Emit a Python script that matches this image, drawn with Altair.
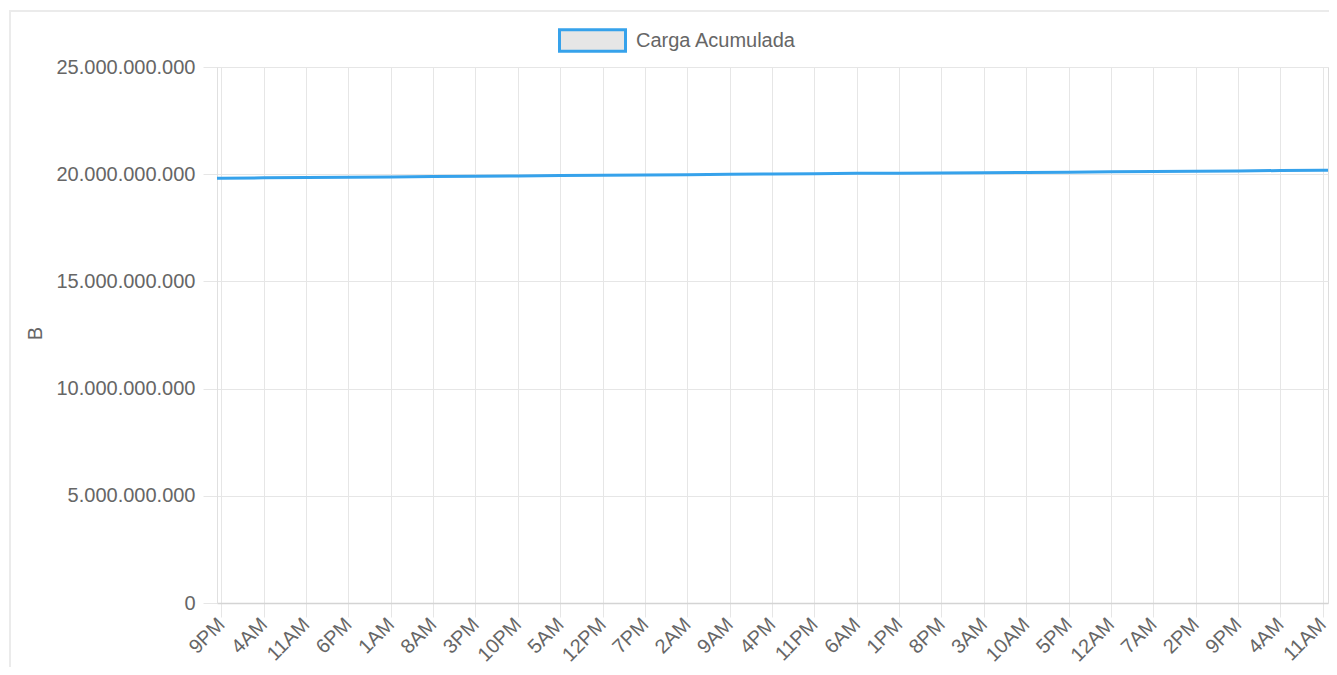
import altair as alt
import pandas as pd

series_name = "Carga Acumulada"
y_title = "B"

# data points (start, every labelled tick, end)
times = [
    "2023-10-01T20:17:00",
    "2023-10-01T21:00:00", "2023-10-02T04:00:00", "2023-10-02T11:00:00", "2023-10-02T18:00:00",
    "2023-10-03T01:00:00", "2023-10-03T08:00:00", "2023-10-03T15:00:00", "2023-10-03T22:00:00",
    "2023-10-04T05:00:00", "2023-10-04T12:00:00", "2023-10-04T19:00:00", "2023-10-05T02:00:00",
    "2023-10-05T09:00:00", "2023-10-05T16:00:00", "2023-10-05T23:00:00", "2023-10-06T06:00:00",
    "2023-10-06T13:00:00", "2023-10-06T20:00:00", "2023-10-07T03:00:00", "2023-10-07T10:00:00",
    "2023-10-07T17:00:00", "2023-10-08T00:00:00", "2023-10-08T07:00:00", "2023-10-08T14:00:00",
    "2023-10-08T21:00:00", "2023-10-09T04:00:00", "2023-10-09T11:00:00",
    "2023-10-09T11:53:00",
]
values = [
    19.810e9,
    19.815e9, 19.830e9, 19.845e9, 19.860e9,
    19.875e9, 19.890e9, 19.905e9, 19.920e9,
    19.935e9, 19.950e9, 19.965e9, 19.980e9,
    19.995e9, 20.010e9, 20.025e9, 20.040e9,
    20.050e9, 20.060e9, 20.070e9, 20.080e9,
    20.095e9, 20.110e9, 20.125e9, 20.140e9,
    20.155e9, 20.170e9, 20.185e9,
    20.190e9,
]

# x tick positions (every 7 hours) and y ticks
tick_times = times[1:-1]
y_ticks = [0, 5e9, 10e9, 15e9, 20e9, 25e9]


def dt(s):
    t = pd.Timestamp(s)
    return alt.DateTime(year=t.year, month=t.month, date=t.day, hours=t.hour, minutes=t.minute)


FONT = "Liberation Sans"
GRID = "#e6e6e6"
TXT = "#666666"
BLUE = "#36a2eb"

df = pd.DataFrame({"time": times, "value": values, "series": series_name})

line = alt.Chart(df).mark_line(strokeWidth=3).encode(
    x=alt.X(
        "time:T",
        scale=alt.Scale(domain=[dt(times[0]), dt(times[-1])], nice=False),
        axis=alt.Axis(
            values=[dt(t) for t in tick_times],
            format="%-I%p",
            labelAngle=-45,
            labelAlign="right",
            labelBaseline="middle",
            labelOverlap=False,
            labelFlush=False,
            labelFont=FONT,
            labelFontSize=20,
            labelColor=TXT,
            labelPadding=4,
            tickSize=14,
            tickColor=GRID,
            grid=True,
            gridColor=GRID,
            domainColor="#d4d4d4",
            domainWidth=1.5,
            title=None,
        ),
    ),
    y=alt.Y(
        "value:Q",
        scale=alt.Scale(domain=[0, 25e9], nice=False),
        axis=alt.Axis(
            values=y_ticks,
            labelExpr="replace(format(datum.value, ','), /,/g, '.')",
            labelFont=FONT,
            labelFontSize=20,
            labelColor=TXT,
            labelPadding=8,
            labelFlush=False,
            tickSize=14,
            tickColor=GRID,
            grid=True,
            gridColor=GRID,
            domainColor="#e0e0e0",
            title=y_title,
            titleFont=FONT,
            titleFontSize=20,
            titleFontWeight="normal",
            titleColor=TXT,
            titleAngle=270,
            titleAlign="center",
            titleBaseline="middle",
            titleX=-182,
            titleY=266,
        ),
    ),
    color=alt.Color(
        "series:N",
        scale=alt.Scale(domain=[series_name], range=[BLUE]),
        legend=alt.Legend(
            orient="none",
            legendX=341,
            legendY=-61,
            title=None,
            symbolType="M-1,-0.3235H1V0.3235H-1Z",
            symbolSize=4356,
            symbolFillColor="#e6e6e6",
            symbolStrokeWidth=3,
            labelFont=FONT,
            labelFontSize=20,
            labelColor=TXT,
            labelOffset=9,
            labelLimit=0,
        ),
    ),
)

frame = alt.Chart(pd.DataFrame({"a": [0]})).mark_rect(
    fillOpacity=0, stroke="#ebebeb", strokeWidth=2
).encode(
    x=alt.value(-207), x2=alt.value(1400), y=alt.value(-56), y2=alt.value(800)
)

chart = (
    alt.layer(frame, line)
    .properties(
        width=1111,
        height=536,
        autosize=alt.AutoSizeParams(type="none"),
        padding={"left": 209, "top": 59, "right": 1, "bottom": 64},
    )
    .configure_view(stroke=None)
    .configure(font=FONT)
)

chart.save("out.html", embed_options={"renderer": "svg", "actions": False})
